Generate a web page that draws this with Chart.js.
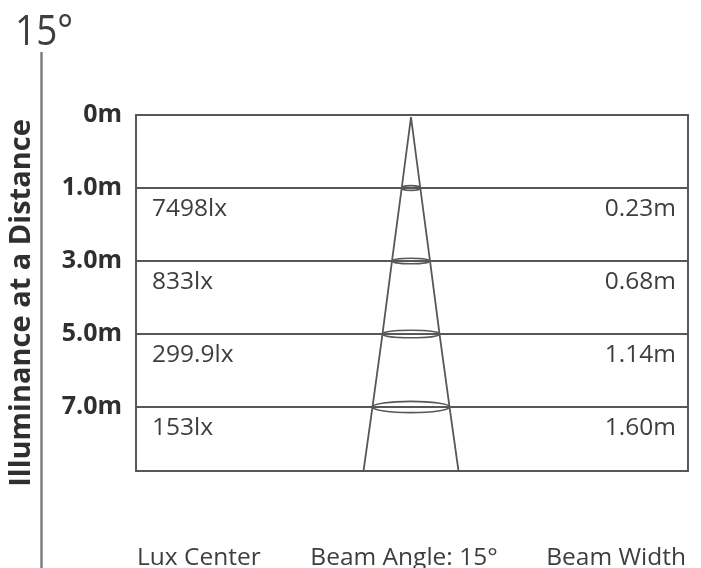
<!DOCTYPE html>
<html><head><meta charset="utf-8">
<script src="https://cdn.jsdelivr.net/npm/chart.js@4"></script>
<style>html,body{margin:0;padding:0;background:#fff}#wrap{width:701px;height:568px}</style>
</head><body><div id="wrap"><canvas id="c" width="701" height="568"></canvas></div>
<script>
// rows on the vertical axis (index positions) and their labels
const distanceLabels = ["0m", "1.0m", "3.0m", "5.0m", "7.0m"];
const luxCenter = ["7498lx", "833lx", "299.9lx", "153lx"];
const beamWidth = ["0.23m", "0.68m", "1.14m", "1.60m"];
// drawn cone: row position and half width (diagram units)
const coneRows = [0.03, 1, 2, 3, 4, 4.877];
const coneHalf = [0, 9.3, 19, 28.5, 38.5, 47.5];
// ellipse rings at rows 1..4
const ringRows = [1, 2, 3, 4];
const ringHalf = [9.3, 19, 28.5, 38.5];
const ringDepth = [2.4, 2.8, 3.8, 5.6];

const LINE = '#55585b';
const TEXT = '#3d3e40';
const FONT = "'Open Sans', 'Noto Sans', sans-serif";

const leftEdge = coneRows.map((r, i) => ({x: -coneHalf[i], y: r}));
const rightEdge = coneRows.map((r, i) => ({x: coneHalf[i], y: r}));

const deco = {
  id: 'deco',
  afterDraw(chart) {
    const ctx = chart.ctx, a = chart.chartArea;
    const xs = chart.scales.x, ys = chart.scales.y;
    ctx.save();
    // box
    ctx.strokeStyle = LINE; ctx.lineWidth = 2;
    ctx.strokeRect(a.left, a.top, a.right - a.left, a.bottom - a.top);
    // rings
    ctx.lineWidth = 1.6;
    ringRows.forEach((r, i) => {
      const cx = xs.getPixelForValue(0), cy = ys.getPixelForValue(r);
      const rx = xs.getPixelForValue(ringHalf[i]) - cx;
      ctx.beginPath(); ctx.ellipse(cx, cy, rx, ringDepth[i], 0, 0, Math.PI * 2); ctx.stroke();
    });
    // row texts
    ctx.fillStyle = TEXT; ctx.font = "24.5px " + FONT; ctx.textBaseline = 'middle';
    luxCenter.forEach((t, i) => {
      const y = ys.getPixelForValue(i + 1) + 21;
      ctx.textAlign = 'left'; ctx.fillText(t, a.left + 16, y);
      ctx.textAlign = 'right'; ctx.fillText(beamWidth[i], a.right - 12, y);
    });
    // bottom labels
    ctx.textBaseline = 'alphabetic';
    ctx.textAlign = 'left'; ctx.fillText('Lux Center', a.left + 1, 565);
    ctx.textAlign = 'center'; ctx.fillText('Beam Angle: 15°', 404, 565);
    ctx.textAlign = 'right'; ctx.fillText('Beam Width', a.right - 2, 565);
    // title
    ctx.save();
    ctx.font = "42px " + FONT; ctx.textAlign = 'left';
    ctx.translate(15, 45); ctx.scale(0.88, 1);
    ctx.fillText('15°', 0, 0);
    ctx.restore();
    // vertical rule
    ctx.strokeStyle = '#7a7e83'; ctx.lineWidth = 2.5;
    ctx.beginPath(); ctx.moveTo(41.5, 52); ctx.lineTo(41.5, 568); ctx.stroke();
    // axis title
    ctx.save();
    ctx.translate(22, 303); ctx.rotate(-Math.PI / 2);
    ctx.font = "bold 29px " + FONT; ctx.textAlign = 'center'; ctx.textBaseline = 'middle';
    ctx.fillStyle = '#2e2f31';
    ctx.fillText('Illuminance at a Distance', 0, 0);
    ctx.restore();
    ctx.restore();
  }
};

new Chart(document.getElementById('c'), {
  type: 'scatter',
  data: {
    datasets: [
      {data: leftEdge, showLine: true, borderColor: LINE, borderWidth: 1.8, pointRadius: 0, tension: 0},
      {data: rightEdge, showLine: true, borderColor: LINE, borderWidth: 1.8, pointRadius: 0, tension: 0}
    ]
  },
  options: {
    responsive: false, animation: false,
    layout: {padding: {top: 115, bottom: 97, left: 0, right: 13}},
    plugins: {legend: {display: false}, tooltip: {enabled: false}},
    scales: {
      x: {type: 'linear', min: -275, max: 277, display: false},
      y: {
        type: 'linear', reverse: true, min: 0, max: 4.877,
        afterBuildTicks: s => { s.ticks = distanceLabels.map((_, i) => ({value: i})); },
        afterFit: s => { s.width = 136; },
        grid: {color: LINE, lineWidth: 2, drawTicks: false},
        border: {display: false},
        ticks: {
          padding: 14, color: '#2e2f31',
          font: {family: FONT, size: 25, weight: 'bold'},
          callback: v => distanceLabels[v]
        }
      }
    }
  },
  plugins: [deco]
});
</script></body></html>
